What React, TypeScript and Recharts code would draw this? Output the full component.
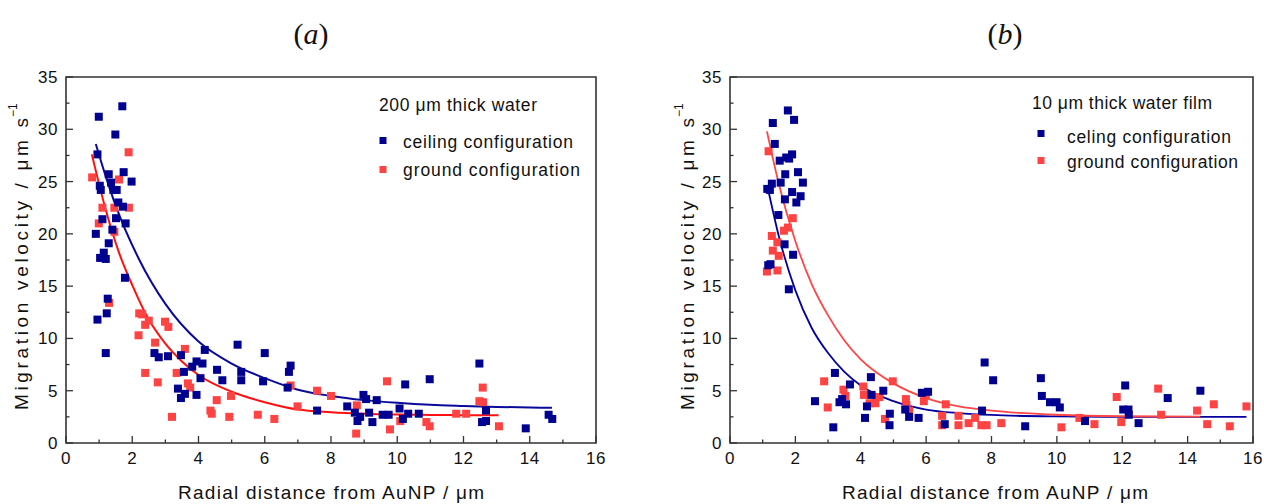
import React from 'react';
import { ComposedChart, Scatter, Line, XAxis, YAxis, ReferenceArea } from 'recharts';

// tick positions (labels only on the majors)
const X_TICKS = [0, 1, 2, 3, 4, 5, 6, 7, 8, 9, 10, 11, 12, 13, 14, 15, 16];
const Y_TICKS = [0, 2.5, 5, 7.5, 10, 12.5, 15, 17.5, 20, 22.5, 25, 27.5, 30, 32.5, 35];

// panel (a): 200 um thick water
const A_CEILING: [number, number][] = [
  [1.70, 32.2], [0.99, 31.2], [1.49, 29.5], [0.95, 27.6], [1.29, 25.7], [1.74, 25.9], [1.98, 25.0],
  [1.02, 24.6], [1.05, 24.2], [1.36, 24.9], [1.43, 24.2], [1.53, 24.2], [1.58, 23.0], [1.72, 22.6],
  [1.10, 21.4], [1.51, 21.5], [1.80, 21.0], [1.40, 20.4], [0.90, 20.0], [1.29, 19.1], [1.14, 18.2],
  [1.03, 17.7], [1.20, 17.6], [1.78, 15.8], [1.26, 13.8], [1.23, 12.4], [0.95, 11.8], [1.20, 8.6],
  [2.67, 8.6], [2.80, 8.2], [3.08, 8.3], [3.47, 8.4], [4.19, 8.9], [5.18, 9.4], [6.00, 8.6],
  [3.94, 7.8], [4.12, 7.6], [3.81, 7.3], [3.56, 6.8], [4.56, 7.0], [5.29, 6.8], [6.78, 7.4],
  [6.73, 6.8], [4.06, 6.2], [4.72, 6.0], [5.29, 6.0], [5.95, 5.9], [3.38, 5.2], [3.59, 4.7],
  [3.47, 4.3], [3.94, 4.6], [6.69, 5.3], [7.58, 3.1], [8.49, 3.5], [8.72, 2.9], [8.80, 2.1],
  [8.98, 4.6], [9.06, 4.2], [9.38, 4.1], [9.15, 2.9], [9.25, 2.0], [8.88, 2.5], [9.56, 2.7],
  [9.74, 2.7], [10.07, 3.3], [10.24, 5.6], [10.17, 2.3], [10.33, 2.8], [10.65, 2.8], [10.98, 6.1],
  [12.48, 7.6], [12.68, 3.1], [12.56, 2.0], [12.68, 2.1], [13.88, 1.4], [14.57, 2.7], [14.68, 2.3],
];
const A_GROUND: [number, number][] = [
  [1.89, 27.8], [0.79, 25.4], [1.60, 25.2], [1.10, 22.5], [1.46, 22.5], [1.90, 22.5], [0.99, 21.0],
  [1.46, 20.2], [1.30, 13.4], [2.21, 12.4], [2.30, 12.3], [2.50, 11.7], [2.39, 11.3], [2.99, 11.6],
  [3.09, 11.1], [2.19, 10.3], [2.69, 9.6], [3.59, 9.0], [2.39, 6.7], [2.77, 5.8], [3.34, 6.7],
  [3.68, 5.7], [3.75, 5.3], [4.55, 4.1], [4.98, 4.5], [4.36, 3.1], [4.40, 2.8], [3.20, 2.5],
  [4.93, 2.5], [5.79, 2.7], [6.29, 2.3], [6.99, 3.5], [6.78, 5.5], [7.58, 5.0], [8.00, 4.5],
  [8.78, 3.6], [8.76, 0.9], [9.69, 5.9], [9.78, 1.3], [10.09, 2.1], [10.88, 2.0], [10.98, 1.6],
  [11.78, 2.8], [12.08, 2.8], [12.58, 5.3], [12.48, 4.0], [12.59, 3.9], [13.07, 1.6],
];
const A_CEILING_FIT: [number, number][] = [
  [0.9, 28.6], [1.2, 25.5], [1.5, 22.7], [2.2, 17.6], [3, 13.3], [4, 9.7], [5, 7.6], [6, 6.2],
  [7, 5.1], [8, 4.5], [9, 4.1], [10, 3.84], [11, 3.65], [12, 3.54], [13, 3.45], [14.67, 3.37],
];
const A_GROUND_FIT: [number, number][] = [
  [0.78, 27.6], [1.2, 22.3], [1.6, 18.2], [2, 15.1], [2.5, 11.8], [3, 9.5], [3.5, 7.8], [4, 6.5],
  [5, 4.9], [6, 3.9], [7, 3.2], [8, 2.95], [9, 2.8], [10, 2.72], [11, 2.68], [12, 2.66], [13.06, 2.65],
];

// panel (b): 10 um thick water film
const B_CEILING: [number, number][] = [
  [1.77, 31.8], [1.96, 30.9], [1.31, 30.6], [1.37, 28.6], [1.52, 27.0], [1.72, 27.3], [1.81, 27.2],
  [1.90, 27.6], [1.69, 25.7], [2.08, 25.9], [2.23, 24.9], [1.28, 24.8], [1.55, 24.9], [1.14, 24.3],
  [1.22, 24.2], [1.90, 24.0], [2.16, 23.6], [1.68, 23.3], [2.03, 23.0], [1.48, 21.8], [1.67, 19.0],
  [1.93, 18.0], [1.17, 17.0], [1.24, 17.1], [1.80, 14.7], [2.60, 4.0], [3.21, 6.7], [3.16, 1.5],
  [3.35, 3.9], [3.43, 4.2], [3.55, 3.7], [3.67, 5.6], [4.13, 2.4], [4.19, 3.5], [4.31, 6.3],
  [4.33, 4.6], [4.69, 5.0], [4.89, 2.8], [4.88, 1.7], [5.36, 3.2], [5.48, 2.5], [5.77, 2.4],
  [5.87, 4.8], [6.06, 4.9], [6.57, 1.8], [7.71, 3.1], [7.79, 7.7], [8.05, 6.0], [9.03, 1.6],
  [9.51, 6.2], [9.54, 4.5], [9.79, 3.9], [9.99, 3.9], [10.09, 3.4], [10.86, 2.1], [12.09, 5.5],
  [12.03, 3.2], [12.19, 3.2], [12.20, 2.7], [12.50, 1.9], [13.39, 4.3], [14.39, 5.0],
];
const B_GROUND: [number, number][] = [
  [1.18, 27.9], [1.92, 21.5], [1.77, 20.6], [1.65, 20.3], [1.28, 19.8], [1.45, 19.2], [1.31, 18.4],
  [1.49, 17.9], [1.13, 16.4], [1.45, 16.5], [2.88, 5.9], [2.99, 3.4], [3.47, 5.1], [3.53, 4.5],
  [4.08, 5.4], [4.10, 4.6], [4.27, 3.8], [4.45, 3.8], [4.49, 4.4], [4.57, 4.4], [4.74, 2.3],
  [4.98, 5.9], [5.38, 4.2], [5.40, 3.6], [5.48, 3.1], [5.93, 4.0], [5.99, 4.6], [6.60, 3.7],
  [6.49, 2.6], [6.49, 1.7], [6.99, 2.6], [6.99, 1.7], [7.30, 1.9], [7.50, 2.4], [7.69, 1.7],
  [7.85, 1.7], [8.30, 1.9], [10.14, 1.5], [10.69, 2.4], [11.15, 1.8], [11.83, 4.4], [11.97, 2.0],
  [13.10, 5.2], [13.19, 2.7], [14.29, 3.1], [14.60, 1.8], [14.80, 3.7], [15.29, 1.6], [15.80, 3.5],
];
const B_CEILING_FIT: [number, number][] = [
  [1.17, 24.2], [1.5, 19.7], [2, 14.6], [2.5, 11.0], [3, 8.6], [3.5, 6.8], [4, 5.5], [5, 4.0],
  [6, 3.2], [7, 2.86], [8, 2.68], [10, 2.54], [12, 2.5], [15.8, 2.5],
];
const B_GROUND_FIT: [number, number][] = [
  [1.13, 29.8], [1.5, 24.7], [2, 19.3], [2.5, 15.2], [3, 12.2], [3.5, 9.8], [4, 8.0], [5, 5.7],
  [6, 4.3], [7, 3.5], [8, 3.1], [9, 2.85], [10, 2.7], [12, 2.56], [14.39, 2.52],
];

const AXIS = '#333';
const FONT = '"Liberation Sans", Arial, sans-serif';
const BLUE = '#000090';
const RED = '#ff4242';

const pts = (arr: [number, number][]) => arr.map(([x, y]) => ({ x, y }));

const square = (color: string) => (props: any) =>
  <rect x={props.cx - 4} y={props.cy - 4} width={8} height={8} fill={color} />;

const XTick = (props: any) => {
  const { x, y, payload } = props;
  const major = payload.value % 2 === 0;
  return (
    <g>
      <line x1={x} x2={x} y1={y} y2={y - (major ? 7 : 3.5)} stroke={AXIS} strokeWidth={1.3} />
      {major && (
        <text x={x} y={y + 21} textAnchor="middle" fontSize={17} fontFamily={FONT} fill="#111" letterSpacing={0.5}>
          {payload.value}
        </text>
      )}
    </g>
  );
};

const YTick = (props: any) => {
  const { x, y, payload } = props;
  const major = payload.value % 5 === 0;
  return (
    <g>
      <line x1={x} x2={x + (major ? 7 : 3.5)} y1={y} y2={y} stroke={AXIS} strokeWidth={1.3} />
      {major && (
        <text x={x - 8} y={y + 6} textAnchor="end" fontSize={17} fontFamily={FONT} fill="#111" letterSpacing={0.5}>
          {payload.value}
        </text>
      )}
    </g>
  );
};

type PanelProps = {
  left: number;
  width: number;
  marginRight: number;
  ceiling: [number, number][];
  ground: [number, number][];
  ceilingFit: [number, number][];
  groundFit: [number, number][];
  fitBlue: string;
  fitRed: string;
  fitWidth: number;
};

const Panel: React.FC<PanelProps> = (p) => (
  <div style={{ position: 'absolute', left: p.left, top: 0 }}>
    <ComposedChart width={p.width} height={504} margin={{ top: 77, right: p.marginRight, bottom: 31, left: 26 }}>
      <XAxis
        type="number"
        dataKey="x"
        domain={[0, 16]}
        ticks={X_TICKS}
        interval={0}
        tickSize={0}
        tickMargin={0}
        axisLine={false}
        tickLine={false}
        tick={<XTick />}
        height={30}
        allowDataOverflow
      />
      <YAxis
        type="number"
        dataKey="y"
        domain={[0, 35]}
        ticks={Y_TICKS}
        interval={0}
        tickSize={0}
        tickMargin={0}
        axisLine={false}
        tickLine={false}
        tick={<YTick />}
        width={40}
        allowDataOverflow
      />
      <ReferenceArea x1={0} x2={16} y1={0} y2={35} fill="none" stroke={AXIS} strokeWidth={1.6} />
      <Scatter data={pts(p.ground)} dataKey="y" shape={square(RED)} isAnimationActive={false} />
      <Scatter data={pts(p.ceiling)} dataKey="y" shape={square(BLUE)} isAnimationActive={false} />
      <Line data={pts(p.ceilingFit)} dataKey="y" type="monotone" stroke={p.fitBlue} strokeWidth={p.fitWidth}
        dot={false} activeDot={false} isAnimationActive={false} />
      <Line data={pts(p.groundFit)} dataKey="y" type="monotone" stroke={p.fitRed} strokeWidth={p.fitWidth}
        dot={false} activeDot={false} isAnimationActive={false} />
    </ComposedChart>
  </div>
);

const Texts: React.FC = () => (
  <svg width={1264} height={504} style={{ position: 'absolute', left: 0, top: 0, pointerEvents: 'none' }}
    fontFamily={FONT} fill="#111">
    {/* panel titles */}
    <text x={311} y={44} fontSize={30} textAnchor="middle" fontFamily='"Liberation Serif", serif'>
      (<tspan fontStyle="italic">a</tspan>)
    </text>
    <text x={1005} y={44} fontSize={30} textAnchor="middle" fontFamily='"Liberation Serif", serif'>
      (<tspan fontStyle="italic">b</tspan>)
    </text>

    {/* axis titles */}
    <text x={178} y={499} fontSize={19} textLength={306} lengthAdjust="spacing">Radial distance from AuNP / μm</text>
    <text x={842} y={499} fontSize={19} textLength={306} lengthAdjust="spacing">Radial distance from AuNP / μm</text>
    <text transform="translate(28,410) rotate(-90)" fontSize={19} textLength={292} lengthAdjust="spacing">
      Migration velocity / μm s
    </text>
    <text transform="translate(17,117) rotate(-90)" fontSize={12}>−1</text>
    <text transform="translate(694,410) rotate(-90)" fontSize={19} textLength={292} lengthAdjust="spacing">
      Migration velocity / μm s
    </text>
    <text transform="translate(683,117) rotate(-90)" fontSize={12}>−1</text>

    {/* legend (a) */}
    <text x={379} y={111} fontSize={17.5} textLength={158} lengthAdjust="spacing">200 μm thick water</text>
    <rect x={379.5} y={137} width={7} height={7} fill={BLUE} />
    <text x={403} y={148} fontSize={17.5} textLength={170} lengthAdjust="spacing">ceiling configuration</text>
    <rect x={379.5} y={166} width={7} height={7} fill={RED} />
    <text x={403} y={176} fontSize={17.5} textLength={177} lengthAdjust="spacing">ground configuration</text>

    {/* legend (b) */}
    <text x={1032} y={109} fontSize={17.5} textLength={180} lengthAdjust="spacing">10 μm thick water film</text>
    <rect x={1037.5} y={130} width={7} height={7} fill={BLUE} />
    <text x={1067} y={143} fontSize={17.5} textLength={164} lengthAdjust="spacing">celing configuration</text>
    <rect x={1037.5} y={157} width={7} height={7} fill={RED} />
    <text x={1067} y={168} fontSize={17.5} textLength={171} lengthAdjust="spacing">ground configuration</text>
  </svg>
);

export default function App() {
  return (
    <div style={{ position: 'absolute', left: 0, top: 0, width: 1264, height: 504, background: '#fff', overflow: 'hidden' }}>
      <Panel left={0} width={632} marginRight={36}
        ceiling={A_CEILING} ground={A_GROUND} ceilingFit={A_CEILING_FIT} groundFit={A_GROUND_FIT}
        fitBlue="#0a0a9a" fitRed="#ff1010" fitWidth={2} />
      <Panel left={664} width={600} marginRight={11}
        ceiling={B_CEILING} ground={B_GROUND} ceilingFit={B_CEILING_FIT} groundFit={B_GROUND_FIT}
        fitBlue="#0000a0" fitRed="#ff4545" fitWidth={1.8} />
      <Texts />
    </div>
  );
}
